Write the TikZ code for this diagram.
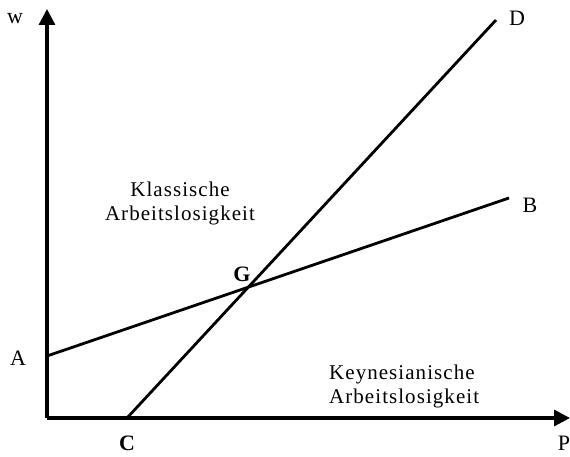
\documentclass[tikz,border=0pt]{standalone}
\usepackage{fontspec}
\setmainfont{Liberation Serif}
\newfontfamily\spacedfont[LetterSpace=5]{Liberation Serif}
\usetikzlibrary{arrows.meta}
\tikzset{
  axis/.style={line width=3.2pt,-{Triangle[width=16pt,length=16pt]}},
  curve/.style={line width=2.8pt},
  lbl/.style={font=\fontsize{22}{26}\selectfont,inner sep=0pt},
  region/.style={font=\fontsize{21}{24}\spacedfont,inner sep=0pt}
}

\begin{document}
\begin{tikzpicture}[x=1pt,y=-1pt]
    \useasboundingbox (0,0) rectangle (570,457);
    \coordinate (o) at (47,418);
    \coordinate (wtip) at (47,9);
    \coordinate (ptip) at (570,418);
    \coordinate (a) at (47,356);
    \coordinate (b) at (509,198);
    \coordinate (c) at (127,418);
    \coordinate (d) at (496,20);

    \node[lbl] (w) at (15,19) {w};
    \node[lbl] (P) at (564,443) {P};
    \node[lbl] (A) at (18,358) {A};
    \node[lbl] (B) at (530,205) {B};
    \node[lbl,font=\fontsize{22}{26}\selectfont\bfseries] (C) at (127,443) {C};
    \node[lbl] (D) at (517,18) {D};
    \node[lbl,font=\fontsize{22}{26}\selectfont\bfseries] (G) at (242,274) {G};

    \node[region,align=center] (klass) at (180,203) {Klassische\\Arbeitslosigkeit};
    \node[region,align=left,anchor=west] (keyn) at (329,386) {Keynesianische\\Arbeitslosigkeit};

    \draw[axis] (o) -- (wtip);
    \draw[axis] (o) -- (ptip);
    \draw[curve] (a) -- (b);
    \draw[curve] (c) -- (d);
\end{tikzpicture}
\end{document}
